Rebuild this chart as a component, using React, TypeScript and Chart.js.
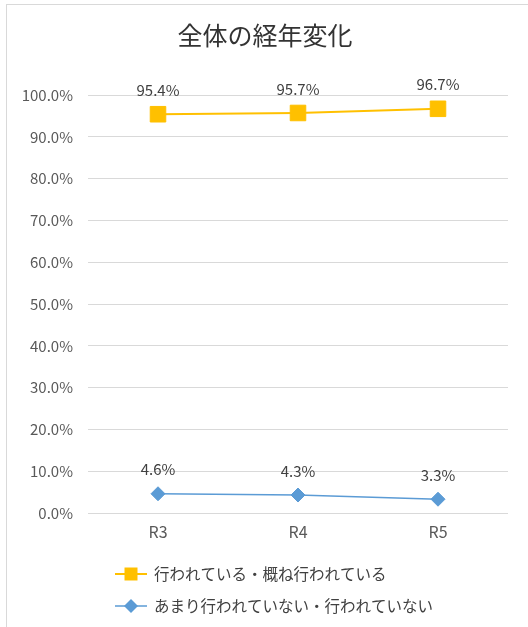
import React, { useEffect, useRef } from "react";
import { Chart, registerables } from "chart.js";

Chart.register(...registerables);

const chartTitle = "全体の経年変化";
const categories = ["R3", "R4", "R5"];
const seriesNames = ["行われている・概ね行われている", "あまり行われていない・行われていない"];
const doneValues = [95.4, 95.7, 96.7];
const notDoneValues = [4.6, 4.3, 3.3];
const yTickValues = [0, 10, 20, 30, 40, 50, 60, 70, 80, 90, 100];

const FONT = '"Noto Sans CJK JP", "Noto Sans", sans-serif';
const ORANGE = "#FFC000";
const BLUE = "#5B9BD5";

const overlayPlugin = {
  id: "overlay",
  afterDatasetsDraw(chart: any) {
    const ctx = chart.ctx;
    ctx.save();
    ctx.font = `15px ${FONT}`;
    ctx.fillStyle = "#404040";
    ctx.textAlign = "center";
    ctx.textBaseline = "middle";
    chart.data.datasets.forEach((ds: any, i: number) => {
      const meta = chart.getDatasetMeta(i);
      meta.data.forEach((pt: any, j: number) => {
        ctx.fillText(`${Number(ds.data[j]).toFixed(1)}%`, pt.x, pt.y - 24);
      });
    });
    ctx.restore();
  },
  afterDraw(chart: any) {
    const ctx = chart.ctx;
    ctx.save();
    // title
    ctx.font = `25px ${FONT}`;
    ctx.fillStyle = "#333333";
    ctx.textAlign = "center";
    ctx.textBaseline = "middle";
    ctx.fillText(chartTitle, 265, 35);
    // legend
    const items = [
      { label: seriesNames[0], color: ORANGE, style: "rect", y: 574 },
      { label: seriesNames[1], color: BLUE, style: "rectRot", y: 606 },
    ];
    items.forEach((it) => {
      ctx.strokeStyle = it.color;
      ctx.lineWidth = it.style === "rect" ? 2 : 1.5;
      ctx.beginPath();
      ctx.moveTo(115, it.y);
      ctx.lineTo(147, it.y);
      ctx.stroke();
      ctx.fillStyle = it.color;
      ctx.beginPath();
      if (it.style === "rect") {
        ctx.rect(131 - 6.5, it.y - 6.5, 13, 13);
      } else {
        ctx.moveTo(131, it.y - 7);
        ctx.lineTo(138, it.y);
        ctx.lineTo(131, it.y + 7);
        ctx.lineTo(124, it.y);
        ctx.closePath();
      }
      ctx.fill();
      ctx.font = `15.5px ${FONT}`;
      ctx.fillStyle = "#404040";
      ctx.textAlign = "left";
      ctx.textBaseline = "middle";
      ctx.fillText(it.label, 154, it.y);
    });
    ctx.restore();
  },
};

export default function App() {
  const canvasRef = useRef<HTMLCanvasElement | null>(null);

  useEffect(() => {
    if (!canvasRef.current) return;
    const chart = new Chart(canvasRef.current, {
      type: "line",
      data: {
        labels: categories,
        datasets: [
          {
            label: seriesNames[0],
            data: doneValues,
            borderColor: ORANGE,
            backgroundColor: ORANGE,
            borderWidth: 2,
            pointStyle: "rect",
            pointRadius: 11,
            pointBorderWidth: 1,
            pointBackgroundColor: ORANGE,
            pointBorderColor: ORANGE,
          },
          {
            label: seriesNames[1],
            data: notDoneValues,
            borderColor: BLUE,
            backgroundColor: BLUE,
            borderWidth: 1.5,
            pointStyle: "rectRot",
            pointRadius: 7,
            pointBorderWidth: 1,
            pointBackgroundColor: BLUE,
            pointBorderColor: BLUE,
          },
        ],
      },
      options: {
        animation: false,
        responsive: true,
        maintainAspectRatio: false,
        layout: { padding: { left: 0, right: 20, top: 95, bottom: 84 } },
        plugins: {
          legend: { display: false },
          title: { display: false },
          tooltip: { enabled: false },
        },
        scales: {
          x: {
            offset: true,
            grid: { display: false, drawTicks: false },
            border: { display: false },
            ticks: {
              color: "#595959",
              font: { family: FONT, size: 16 },
              padding: 9,
            },
            afterFit(scale: any) {
              scale.height = 30;
            },
          },
          y: {
            min: 0,
            max: 100,
            afterBuildTicks(scale: any) {
              scale.ticks = yTickValues.map((v) => ({ value: v }));
            },
            grid: { color: "#d9d9d9", lineWidth: 1, drawTicks: false },
            border: { display: false },
            ticks: {
              color: "#595959",
              font: { family: FONT, size: 15 },
              padding: 15,
              callback: (v: any) => `${Number(v).toFixed(1)}%`,
            },
            afterFit(scale: any) {
              scale.width = 88;
            },
          },
        },
      },
      plugins: [overlayPlugin],
    });
    return () => chart.destroy();
  }, []);

  return (
    <div style={{ position: "absolute", left: 0, top: 0, width: 528, height: 627, background: "#fff", overflow: "hidden" }}>
      <div
        style={{
          position: "absolute",
          left: 6,
          top: 4,
          right: -10,
          bottom: -10,
          border: "1px solid #d9d9d9",
          pointerEvents: "none",
        }}
      />
      <canvas ref={canvasRef} style={{ position: "absolute", left: 0, top: 0, width: 528, height: 627 }} />
    </div>
  );
}
